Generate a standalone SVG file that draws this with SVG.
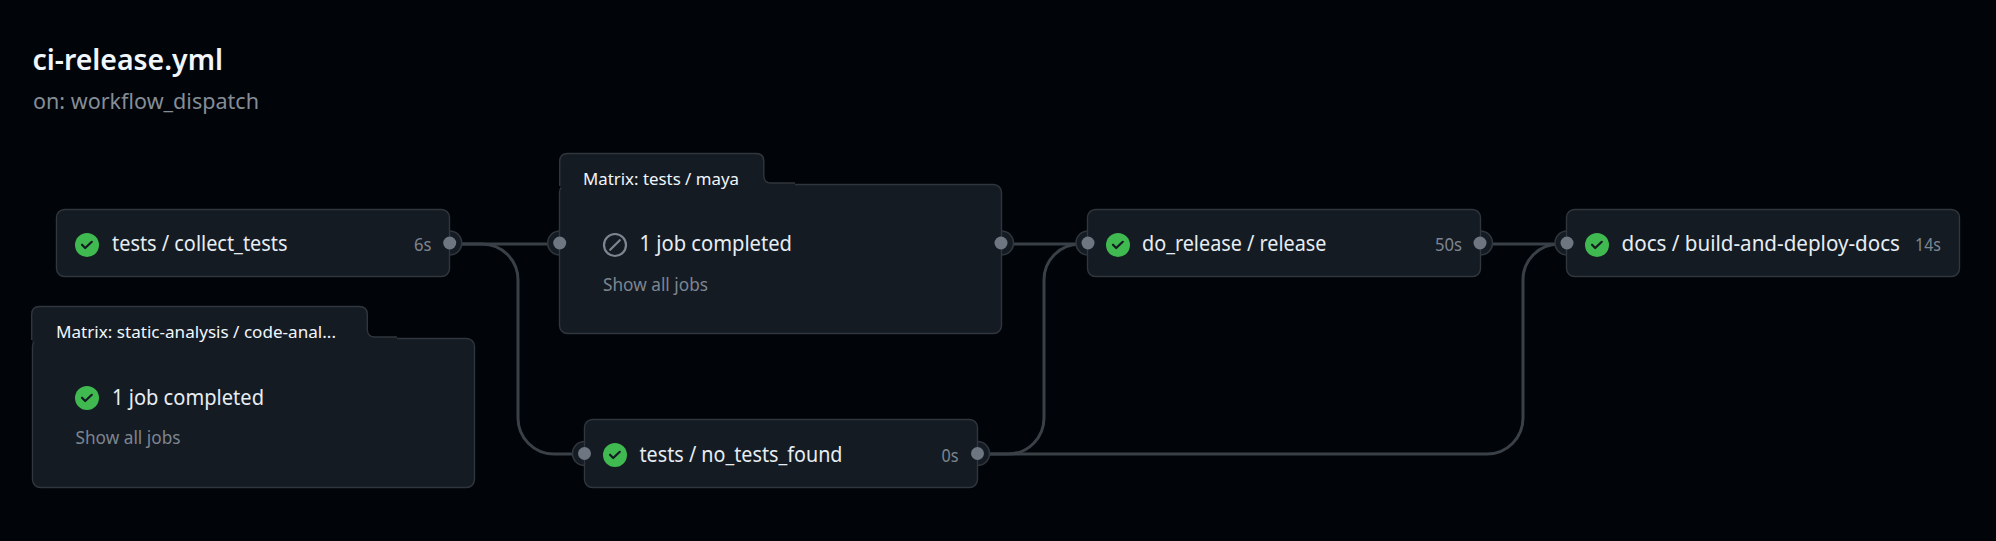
<svg xmlns="http://www.w3.org/2000/svg" width="1996" height="541" viewBox="0 0 1996 541">
<style>
text{font-family:"Noto Sans","Open Sans","Liberation Sans",sans-serif;}
.box{fill:#151b23;stroke:#30363d;stroke-width:1.4;}
.edge{fill:none;stroke:#3a4047;stroke-width:3;}
.ring{fill:#151b23;stroke:#30363d;stroke-width:1.6;}
.dot{fill:#6e7681;}
.name{fill:#e6edf3;font-size:21px;}
.dur{fill:#7d8590;font-size:18.500px;}
.tab{fill:#f0f6fc;font-size:17px;}
.show{fill:#7d8590;font-size:17.500px;}
.title{fill:#f0f6fc;font-size:29px;font-weight:600;}
.sub{fill:#848d97;font-size:21.500px;}
.ok{fill:#3fb950;}
.chk{fill:none;stroke:#151b23;stroke-width:2.2;stroke-linecap:round;stroke-linejoin:round;}
.skip{fill:none;stroke:#7d8590;stroke-width:2.2;stroke-linecap:round;}
.tabfill{fill:#151b23;}
.tabline{fill:none;stroke:#30363d;stroke-width:1.400;}
</style>
<defs>
<g id="okicon"><circle class="ok" r="12"/><path class="chk" d="M-5-.3L-1.8 3L4.8-3.2"/></g>
</defs>
<rect width="1996" height="541" fill="#010409"/>
<g id="header">
<text class="title" x="32.500" y="70" textLength="190.500" lengthAdjust="spacingAndGlyphs">ci-release.yml</text>
<text class="sub" x="33" y="108.500" textLength="226" lengthAdjust="spacingAndGlyphs">on: workflow_dispatch</text>
</g>
<g id="connectors">
<path class="edge" d="M462 244H548"/>
<path class="edge" d="M462 244H482A36 36 0 0 1 518 280V418A36 36 0 0 0 554 454H572"/>
<path class="edge" d="M1014 244H1076"/>
<path class="edge" d="M990 454H1008A36 36 0 0 0 1044 418V280A36 36 0 0 1 1080 244"/>
<path class="edge" d="M1492 244H1555"/>
<path class="edge" d="M990 454H1487A36 36 0 0 0 1523 418V280A36 36 0 0 1 1559 244"/>
</g>
<g id="node-collect-tests">
<circle class="ring" cx="449.700" cy="243" r="12"/>
<rect class="box" x="56.500" y="209.500" width="393" height="67" rx="8"/>
<circle class="dot" cx="449.700" cy="243" r="6.500"/>
<use href="#okicon" x="87" y="245"/>
<text class="name" x="112" y="251" textLength="175.500" lengthAdjust="spacingAndGlyphs">tests / collect_tests</text>
<text class="dur" x="414" y="250.500" textLength="17.500" lengthAdjust="spacingAndGlyphs">6s</text>
</g>
<g id="node-static-analysis">
<rect class="box" x="32.500" y="338.500" width="442" height="149" rx="8"/>
<path class="tabfill" d="M32 342V314.500Q32 306.500 40 306.500H359Q367 306.500 367 314.500V330Q367 337 375 337H397V342Z"/>
<path class="tabline" d="M31.700 340V314.500Q31.700 306.500 39.700 306.500H359Q367.300 306.500 367.300 314.500V330Q367.700 337 375 337H397"/>
<text class="tab" x="56" y="338" textLength="280" lengthAdjust="spacingAndGlyphs">Matrix: static-analysis / code-anal...</text>
<use href="#okicon" x="87" y="398"/>
<text class="name" x="112" y="404.500" textLength="152" lengthAdjust="spacingAndGlyphs">1 job completed</text>
<text class="show" x="75.500" y="444" textLength="105" lengthAdjust="spacingAndGlyphs">Show all jobs</text>
</g>
<g id="node-matrix-maya">
<circle class="ring" cx="559.700" cy="243" r="12"/>
<circle class="ring" cx="1001.500" cy="243" r="12"/>
<rect class="box" x="559.500" y="184.500" width="442" height="149" rx="8"/>
<path class="tabfill" d="M560 188V161.500Q560 153.500 568 153.500H756Q763.500 153.500 763.500 161.500V176Q763.500 183 771 183H795V188Z"/>
<path class="tabline" d="M559.700 186V161.500Q559.700 153.500 567.700 153.500H756Q763.800 153.500 763.800 161.500V176Q764.200 183 771 183H795"/>
<circle class="dot" cx="559.700" cy="243" r="6.500"/>
<circle class="dot" cx="1001" cy="243" r="6.500"/>
<text class="tab" x="583" y="185" textLength="156" lengthAdjust="spacingAndGlyphs">Matrix: tests / maya</text>
<g transform="translate(615,245)"><circle class="skip" r="11"/><path class="skip" d="M-4.800 4.800L4.800-4.800"/></g>
<text class="name" x="639.500" y="251" textLength="152.500" lengthAdjust="spacingAndGlyphs">1 job completed</text>
<text class="show" x="603" y="291" textLength="105" lengthAdjust="spacingAndGlyphs">Show all jobs</text>
</g>
<g id="node-no-tests-found">
<circle class="ring" cx="584.500" cy="453.500" r="12"/>
<circle class="ring" cx="977.500" cy="453.500" r="12"/>
<rect class="box" x="584.500" y="419.500" width="393" height="68" rx="8"/>
<circle class="dot" cx="584.500" cy="453.500" r="6.500"/>
<circle class="dot" cx="977.500" cy="453.500" r="6.500"/>
<use href="#okicon" x="615" y="455"/>
<text class="name" x="639.500" y="462" textLength="203" lengthAdjust="spacingAndGlyphs">tests / no_tests_found</text>
<text class="dur" x="941.500" y="461.500" textLength="17" lengthAdjust="spacingAndGlyphs">0s</text>
</g>
<g id="node-do-release">
<circle class="ring" cx="1088" cy="243" r="12"/>
<circle class="ring" cx="1480.500" cy="243" r="12"/>
<rect class="box" x="1087.500" y="209.500" width="393" height="67" rx="8"/>
<circle class="dot" cx="1088" cy="243" r="6.500"/>
<circle class="dot" cx="1480" cy="243" r="6.500"/>
<use href="#okicon" x="1118" y="245"/>
<text class="name" x="1142" y="251" textLength="184.500" lengthAdjust="spacingAndGlyphs">do_release / release</text>
<text class="dur" x="1435" y="250.500" textLength="27" lengthAdjust="spacingAndGlyphs">50s</text>
</g>
<g id="node-docs">
<circle class="ring" cx="1567" cy="243" r="12"/>
<rect class="box" x="1566.500" y="209.500" width="393" height="67" rx="8"/>
<circle class="dot" cx="1567" cy="243" r="6.500"/>
<use href="#okicon" x="1597" y="245"/>
<text class="name" x="1621.500" y="251" textLength="278.500" lengthAdjust="spacingAndGlyphs">docs / build-and-deploy-docs</text>
<text class="dur" x="1915" y="250.500" textLength="26" lengthAdjust="spacingAndGlyphs">14s</text>
</g>
</svg>
